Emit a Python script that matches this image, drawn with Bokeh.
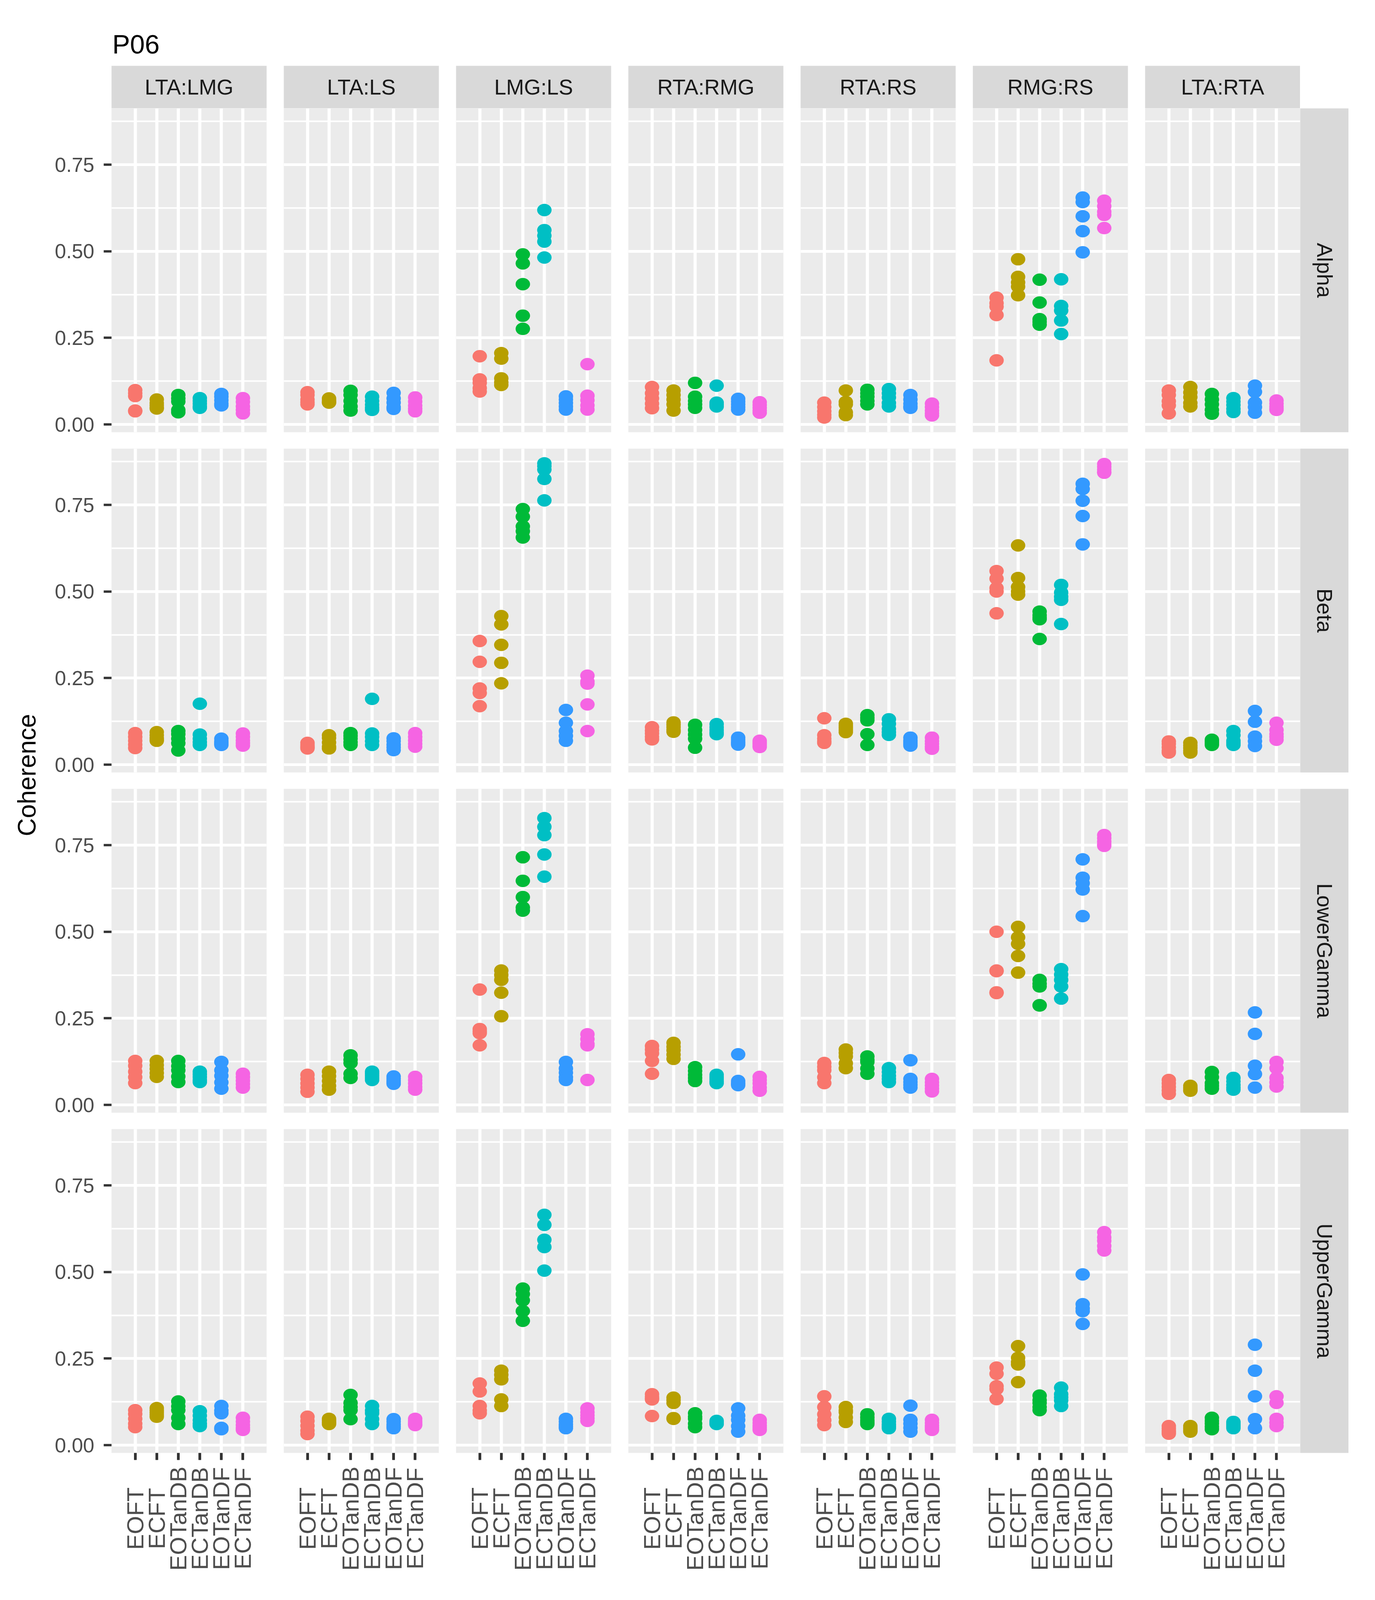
import math

from bokeh.core.properties import value
from bokeh.embed import file_html
from bokeh.models import (ColumnDataSource, FactorRange, FixedTicker, GridPlot,
                          NumeralTickFormatter, Range1d)
from bokeh.plotting import figure
from bokeh.resources import INLINE

# ---- chart data -------------------------------------------------------------
title = "P06"
y_title = "Coherence"
conditions = ["EOFT", "ECFT", "EOTanDB", "ECTanDB", "EOTanDF", "ECTanDF"]
pairs = ["LTA:LMG", "LTA:LS", "LMG:LS", "RTA:RMG", "RTA:RS", "RMG:RS", "LTA:RTA"]
bands = ["Alpha", "Beta", "LowerGamma", "UpperGamma"]
y_ticks = [0, 0.25, 0.5, 0.75]
y_minor = [0.125, 0.375, 0.625, 0.875]

# coherence values per pair, one list per condition (same order as conditions)
alpha = {
    "LTA:LMG": [[0.099, 0.090, 0.082, 0.040, 0.038], [0.072, 0.062, 0.055, 0.048, 0.046],
                [0.085, 0.075, 0.066, 0.042, 0.035], [0.076, 0.068, 0.060, 0.052, 0.048],
                [0.088, 0.080, 0.070, 0.060, 0.055], [0.076, 0.065, 0.052, 0.042, 0.032]],
    "LTA:LS": [[0.093, 0.085, 0.072, 0.064, 0.058], [0.075, 0.070, 0.066, 0.063, 0.064],
               [0.097, 0.085, 0.068, 0.052, 0.040], [0.080, 0.068, 0.057, 0.048, 0.042],
               [0.091, 0.075, 0.063, 0.050, 0.045], [0.078, 0.066, 0.054, 0.045, 0.038]],
    "LMG:LS": [[0.197, 0.130, 0.120, 0.105, 0.095], [0.206, 0.190, 0.133, 0.122, 0.114],
               [0.491, 0.465, 0.405, 0.314, 0.276], [0.619, 0.561, 0.545, 0.528, 0.482],
               [0.081, 0.072, 0.062, 0.052, 0.043], [0.174, 0.083, 0.070, 0.055, 0.043]],
    "RTA:RMG": [[0.108, 0.090, 0.075, 0.060, 0.047], [0.098, 0.085, 0.072, 0.058, 0.040],
                [0.120, 0.080, 0.068, 0.058, 0.048], [0.112, 0.063, 0.058, 0.055, 0.052],
                [0.074, 0.066, 0.058, 0.050, 0.043], [0.064, 0.056, 0.048, 0.040, 0.034]],
    "RTA:RS": [[0.063, 0.050, 0.038, 0.028, 0.020], [0.098, 0.065, 0.058, 0.035, 0.027],
               [0.100, 0.090, 0.080, 0.068, 0.058], [0.102, 0.090, 0.078, 0.062, 0.052],
               [0.085, 0.072, 0.060, 0.052, 0.048], [0.060, 0.050, 0.040, 0.032, 0.026]],
    "RMG:RS": [[0.366, 0.350, 0.340, 0.316, 0.185], [0.477, 0.426, 0.410, 0.398, 0.373],
               [0.418, 0.352, 0.304, 0.296, 0.288], [0.419, 0.342, 0.329, 0.300, 0.261],
               [0.655, 0.642, 0.601, 0.558, 0.497], [0.646, 0.630, 0.614, 0.605, 0.567]],
    "LTA:RTA": [[0.098, 0.085, 0.067, 0.055, 0.032], [0.108, 0.092, 0.079, 0.062, 0.052],
                [0.088, 0.072, 0.058, 0.042, 0.031], [0.076, 0.066, 0.056, 0.045, 0.036],
                [0.112, 0.094, 0.063, 0.050, 0.034], [0.069, 0.060, 0.052, 0.046, 0.042]],
}

beta = {
    "LTA:LMG": [[0.091, 0.080, 0.069, 0.058, 0.048], [0.094, 0.085, 0.077, 0.072, 0.069],
                [0.097, 0.088, 0.075, 0.062, 0.041], [0.176, 0.087, 0.075, 0.065, 0.057],
                [0.075, 0.068, 0.063, 0.060, 0.057], [0.090, 0.080, 0.070, 0.062, 0.055]],
    "LTA:LS": [[0.063, 0.058, 0.053, 0.050, 0.047], [0.085, 0.077, 0.064, 0.052, 0.047],
               [0.091, 0.083, 0.075, 0.065, 0.057], [0.190, 0.090, 0.080, 0.068, 0.057],
               [0.076, 0.068, 0.058, 0.050, 0.042], [0.091, 0.080, 0.070, 0.060, 0.052]],
    "LMG:LS": [[0.357, 0.297, 0.220, 0.207, 0.169], [0.429, 0.405, 0.346, 0.294, 0.235],
               [0.738, 0.716, 0.688, 0.674, 0.656], [0.870, 0.862, 0.852, 0.825, 0.763],
               [0.158, 0.121, 0.097, 0.083, 0.069], [0.257, 0.240, 0.234, 0.174, 0.097]],
    "RTA:RMG": [[0.108, 0.098, 0.090, 0.080, 0.073], [0.122, 0.115, 0.108, 0.100, 0.095],
                [0.115, 0.100, 0.087, 0.075, 0.049], [0.117, 0.108, 0.100, 0.093, 0.088],
                [0.078, 0.072, 0.066, 0.062, 0.058], [0.069, 0.064, 0.060, 0.055, 0.051]],
    "RTA:RS": [[0.134, 0.085, 0.075, 0.068, 0.063], [0.118, 0.112, 0.106, 0.100, 0.094],
               [0.143, 0.135, 0.128, 0.088, 0.057], [0.131, 0.118, 0.103, 0.094, 0.086],
               [0.078, 0.070, 0.065, 0.060, 0.055], [0.078, 0.068, 0.060, 0.052, 0.046]],
    "RMG:RS": [[0.559, 0.537, 0.510, 0.500, 0.437], [0.633, 0.539, 0.513, 0.500, 0.491],
               [0.442, 0.432, 0.425, 0.420, 0.363], [0.519, 0.497, 0.485, 0.476, 0.406],
               [0.811, 0.796, 0.762, 0.718, 0.636], [0.868, 0.860, 0.852, 0.845, 0.843]],
    "LTA:RTA": [[0.067, 0.060, 0.050, 0.040, 0.035], [0.063, 0.055, 0.048, 0.040, 0.035],
                [0.072, 0.068, 0.064, 0.060, 0.057], [0.097, 0.085, 0.069, 0.063, 0.057],
                [0.155, 0.124, 0.081, 0.068, 0.054], [0.121, 0.100, 0.088, 0.080, 0.072]],
}

lower_gamma = {
    "LTA:LMG": [[0.127, 0.113, 0.096, 0.080, 0.063], [0.127, 0.115, 0.104, 0.092, 0.081],
                [0.127, 0.112, 0.100, 0.082, 0.066], [0.096, 0.088, 0.080, 0.072, 0.066],
                [0.124, 0.100, 0.084, 0.065, 0.047], [0.090, 0.080, 0.070, 0.060, 0.050]],
    "LTA:LS": [[0.087, 0.075, 0.062, 0.050, 0.038], [0.096, 0.083, 0.069, 0.055, 0.044],
               [0.143, 0.130, 0.121, 0.090, 0.078], [0.096, 0.090, 0.084, 0.078, 0.072],
               [0.082, 0.076, 0.070, 0.065, 0.061], [0.081, 0.072, 0.062, 0.052, 0.044]],
    "LMG:LS": [[0.333, 0.219, 0.212, 0.207, 0.172], [0.388, 0.375, 0.361, 0.324, 0.256],
               [0.715, 0.647, 0.600, 0.570, 0.561], [0.828, 0.803, 0.779, 0.723, 0.659],
               [0.124, 0.105, 0.093, 0.080, 0.072], [0.204, 0.190, 0.176, 0.172, 0.072]],
    "RTA:RMG": [[0.170, 0.160, 0.149, 0.127, 0.090], [0.179, 0.168, 0.158, 0.145, 0.133],
                [0.109, 0.098, 0.087, 0.078, 0.069], [0.087, 0.080, 0.074, 0.068, 0.063],
                [0.146, 0.069, 0.063, 0.060, 0.057], [0.081, 0.072, 0.062, 0.050, 0.041]],
    "RTA:RS": [[0.121, 0.110, 0.100, 0.080, 0.063], [0.160, 0.150, 0.140, 0.120, 0.106],
               [0.140, 0.130, 0.124, 0.105, 0.090], [0.106, 0.095, 0.084, 0.075, 0.066],
               [0.129, 0.075, 0.066, 0.058, 0.050], [0.075, 0.065, 0.056, 0.047, 0.039]],
    "RMG:RS": [[0.500, 0.388, 0.386, 0.325, 0.323], [0.514, 0.484, 0.465, 0.430, 0.382],
               [0.361, 0.350, 0.342, 0.288, 0.287], [0.392, 0.376, 0.361, 0.342, 0.307],
               [0.709, 0.656, 0.640, 0.622, 0.545], [0.779, 0.770, 0.760, 0.752, 0.748]],
    "LTA:RTA": [[0.072, 0.062, 0.052, 0.042, 0.032], [0.055, 0.050, 0.046, 0.043, 0.041],
                [0.095, 0.080, 0.063, 0.055, 0.047], [0.078, 0.068, 0.058, 0.050, 0.044],
                [0.267, 0.205, 0.113, 0.089, 0.050], [0.124, 0.106, 0.078, 0.065, 0.053]],
}

upper_gamma = {
    "LTA:LMG": [[0.101, 0.090, 0.076, 0.062, 0.052], [0.107, 0.100, 0.094, 0.088, 0.082],
                [0.126, 0.112, 0.101, 0.079, 0.061], [0.098, 0.085, 0.072, 0.062, 0.055],
                [0.113, 0.100, 0.092, 0.050, 0.046], [0.079, 0.068, 0.058, 0.050, 0.044]],
    "LTA:LS": [[0.082, 0.070, 0.056, 0.042, 0.032], [0.076, 0.071, 0.067, 0.064, 0.061],
               [0.145, 0.122, 0.110, 0.101, 0.075], [0.113, 0.100, 0.092, 0.075, 0.061],
               [0.075, 0.068, 0.060, 0.054, 0.049], [0.076, 0.070, 0.065, 0.061, 0.058]],
    "LMG:LS": [[0.178, 0.155, 0.113, 0.100, 0.092], [0.215, 0.203, 0.190, 0.132, 0.113],
               [0.452, 0.436, 0.418, 0.387, 0.359], [0.665, 0.636, 0.593, 0.572, 0.504],
               [0.076, 0.068, 0.060, 0.054, 0.049], [0.106, 0.095, 0.086, 0.078, 0.070]],
    "RTA:RMG": [[0.147, 0.140, 0.135, 0.132, 0.084], [0.137, 0.130, 0.122, 0.078, 0.076],
                [0.092, 0.082, 0.076, 0.062, 0.052], [0.070, 0.067, 0.064, 0.062, 0.061],
                [0.106, 0.085, 0.073, 0.055, 0.039], [0.073, 0.064, 0.056, 0.050, 0.044]],
    "RTA:RS": [[0.141, 0.110, 0.089, 0.072, 0.058], [0.110, 0.100, 0.095, 0.080, 0.067],
               [0.089, 0.080, 0.072, 0.066, 0.061], [0.076, 0.068, 0.060, 0.054, 0.049],
               [0.114, 0.073, 0.062, 0.050, 0.039], [0.073, 0.064, 0.056, 0.050, 0.044]],
    "RMG:RS": [[0.224, 0.206, 0.170, 0.162, 0.133], [0.286, 0.252, 0.240, 0.233, 0.182],
               [0.143, 0.130, 0.122, 0.110, 0.101], [0.166, 0.147, 0.138, 0.129, 0.113],
               [0.493, 0.407, 0.395, 0.387, 0.350], [0.615, 0.600, 0.590, 0.575, 0.562]],
    "LTA:RTA": [[0.055, 0.048, 0.042, 0.037, 0.033], [0.055, 0.050, 0.046, 0.042, 0.039],
                [0.079, 0.070, 0.062, 0.053, 0.046], [0.067, 0.062, 0.058, 0.053, 0.049],
                [0.290, 0.215, 0.141, 0.075, 0.049], [0.141, 0.122, 0.076, 0.065, 0.055]],
}

band_data = {"Alpha": alpha, "Beta": beta, "LowerGamma": lower_gamma, "UpperGamma": upper_gamma}

# hue palette, one colour per condition
colors = ["#F8766D", "#B79F00", "#00BA38", "#00BFC4", "#3399FF", "#F564E3"]

# ---- layout / style ---------------------------------------------------------
FONT = "Liberation Sans"
PANEL_W, PANEL_H = 397, 829
GAP_X, GAP_Y = 44, 42
LEFT = 173          # room for y tick labels in the first panel column
YLAB_W = 112        # column holding the y-axis title
STRIP_H, STRIP_W = 109, 124
TITLE_H = 168
AXIS_H = 29         # tick marks under the bottom row
LABEL_H = 320       # rotated x labels

# shared y scale, ggplot-style 5% expansion around the data
all_vals = [v for b in band_data.values() for p in b.values() for g in p for v in g]
span = max(all_vals) - min(all_vals)
y_range = Range1d(min(all_vals) - 0.05 * span, max(all_vals) + 0.05 * span)

x_ranges = [FactorRange(factors=conditions, range_padding=0.6,
                        range_padding_units="absolute") for _ in pairs]


def col_border(j):
    left = LEFT if j == 0 else 0
    right = GAP_X if j < len(pairs) - 1 else 0
    return left, right


def blank(width, height, x_range, y_range, left=0, right=0, top=0, bottom=0,
          bg="white", x_loc=None, y_loc=None):
    f = figure(width=width, height=height, x_range=x_range, y_range=y_range,
               output_backend="svg", toolbar_location=None, tools="",
               x_axis_location=x_loc, y_axis_location=y_loc,
               min_border_left=left, min_border_right=right,
               min_border_top=top, min_border_bottom=bottom,
               background_fill_color=bg, border_fill_color="white",
               outline_line_color=None)
    return f


children = []

# title
total_w = YLAB_W + LEFT + len(pairs) * PANEL_W + (len(pairs) - 1) * GAP_X + STRIP_W
tf = blank(total_w, TITLE_H, Range1d(0, total_w), Range1d(0, TITLE_H))
tf.grid.visible = False
tf.text(x=[287], y=[56], text=[title], text_font=value(FONT), text_font_size="68px",
        text_color="black", text_align="left", text_baseline="alphabetic")
children.append((tf, 0, 0, 1, len(pairs) + 2))

# top strips
for j, pair in enumerate(pairs):
    l, r = col_border(j)
    sf = blank(l + PANEL_W + r, STRIP_H, Range1d(0, 1), Range1d(0, 1),
               left=l, right=r, bg="#D9D9D9")
    sf.grid.visible = False
    sf.text(x=[0.5], y=[0.5], text=[pair], text_font=value(FONT), text_font_size="55px",
            text_color="#1A1A1A", text_align="center", text_baseline="middle")
    children.append((sf, 1, j + 1))

# panels
for i, band in enumerate(bands):
    last = i == len(bands) - 1
    bottom = AXIS_H if last else GAP_Y
    for j, pair in enumerate(pairs):
        l, r = col_border(j)
        p = blank(l + PANEL_W + r, PANEL_H + bottom, x_ranges[j], y_range,
                  left=l, right=r, bottom=bottom, bg="#EBEBEB",
                  x_loc="below" if last else None, y_loc="left" if j == 0 else None)
        p.ygrid.ticker = FixedTicker(ticks=y_ticks, minor_ticks=y_minor)
        p.ygrid.grid_line_color = "white"
        p.ygrid.grid_line_width = 7
        p.ygrid.minor_grid_line_color = "white"
        p.ygrid.minor_grid_line_width = 4
        p.xgrid.grid_line_color = "white"
        p.xgrid.grid_line_width = 8

        if j == 0:
            ax = p.yaxis[0]
            ax.ticker = FixedTicker(ticks=y_ticks)
            ax.formatter = NumeralTickFormatter(format="0.00")
            ax.axis_line_color = None
            ax.major_tick_in = 0
            ax.major_tick_out = 20
            ax.major_tick_line_width = 6
            ax.major_tick_line_color = "#333333"
            ax.minor_tick_line_color = None
            ax.major_label_text_font = FONT
            ax.major_label_text_font_size = "52px"
            ax.major_label_text_color = "#4D4D4D"
            ax.major_label_standoff = 24
        if last:
            ax = p.xaxis[0]
            ax.axis_line_color = None
            ax.major_tick_in = 0
            ax.major_tick_out = 18
            ax.major_tick_line_width = 7
            ax.major_tick_line_color = "#333333"
            ax.major_label_overrides = {c: "" for c in conditions}
            ax.major_label_text_font_size = "1px"
            ax.major_label_standoff = 0

        xs, ys, cs = [], [], []
        for k, cond in enumerate(conditions):
            for v in band_data[band][pair][k]:
                xs.append(cond)
                ys.append(v)
                cs.append(colors[k])
        p.ellipse(x="x", y="y", width=37, height=32, width_units="screen",
                  height_units="screen", fill_color="c", line_color=None,
                  source=ColumnDataSource(dict(x=xs, y=ys, c=cs)))
        children.append((p, i + 2, j + 1))

    # right strip
    rf = blank(STRIP_W, PANEL_H + bottom, Range1d(0, 1), Range1d(0, 1),
               bottom=bottom, bg="#D9D9D9")
    rf.grid.visible = False
    rf.text(x=[0.5], y=[0.5], text=[band], angle=-math.pi / 2, text_font=value(FONT),
            text_font_size="55px", text_color="#1A1A1A", text_align="center",
            text_baseline="middle")
    children.append((rf, i + 2, len(pairs) + 1))

# y-axis title
ylab_h = (len(bands) - 1) * (PANEL_H + GAP_Y) + PANEL_H + AXIS_H
yf = blank(YLAB_W, ylab_h, Range1d(0, YLAB_W), Range1d(0, ylab_h))
yf.grid.visible = False
yf.text(x=[68], y=[1750], text=[y_title], angle=math.pi / 2, text_font=value(FONT),
        text_font_size="64px", text_color="black", text_align="center",
        text_baseline="middle")
children.append((yf, 2, 0, len(bands), 1))

# rotated x labels under each column
for j, pair in enumerate(pairs):
    l, r = col_border(j)
    lf = blank(l + PANEL_W + r, LABEL_H, x_ranges[j], Range1d(0, LABEL_H), left=l, right=r)
    lf.grid.visible = False
    lf.text(x=conditions, y=[181] * len(conditions), text=conditions, angle=math.pi / 2,
            text_font=value(FONT), text_font_size="60px", text_color="#4D4D4D",
            text_align="center", text_baseline="middle")
    children.append((lf, len(bands) + 2, j + 1))

grid = GridPlot(children=children, toolbar_location=None)

open("out.html", "w").write(file_html(grid, INLINE))
